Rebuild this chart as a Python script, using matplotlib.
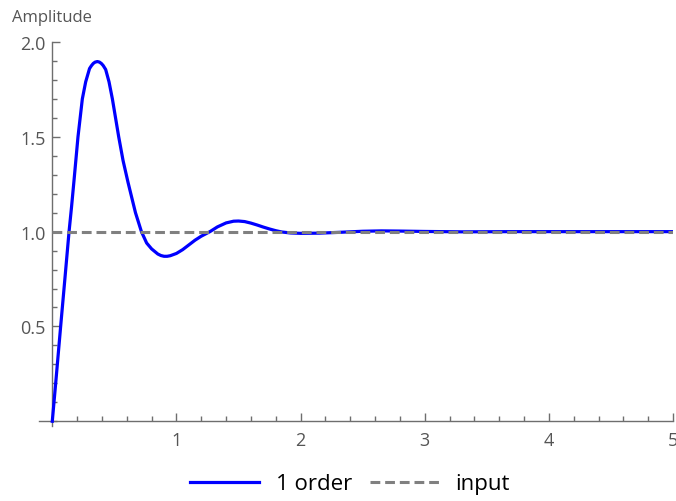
import matplotlib
matplotlib.use("Agg")
import matplotlib.pyplot as plt
from matplotlib.ticker import MultipleLocator

plt.rcParams['font.family'] = ['Open Sans', 'DejaVu Sans']

# step response
t_resp = [0.00, 0.03, 0.068, 0.10, 0.135, 0.155, 0.175, 0.207, 0.242, 0.269,
          0.30, 0.315, 0.33, 0.345, 0.363, 0.38, 0.395, 0.41, 0.43, 0.457, 0.484,
          0.535, 0.57, 0.61, 0.67, 0.718, 0.76, 0.80, 0.85, 0.875, 0.90, 0.925,
          0.95, 1.00, 1.05, 1.10, 1.15, 1.20, 1.27, 1.33, 1.40, 1.46, 1.50, 1.55,
          1.60, 1.65, 1.70, 1.75, 1.80, 1.85, 1.92, 2.0, 2.15, 2.3, 2.5, 2.65,
          2.8, 3.0, 3.3, 3.7, 5.0]
y_resp = [0.00, 0.22, 0.505, 0.74, 1.00, 1.13, 1.27, 1.50, 1.70, 1.79,
          1.86, 1.875, 1.887, 1.894, 1.897, 1.894, 1.887, 1.876, 1.855, 1.79, 1.70,
          1.50, 1.375, 1.26, 1.10, 1.00, 0.94, 0.909, 0.882, 0.874, 0.870, 0.870,
          0.873, 0.885, 0.905, 0.93, 0.955, 0.976, 1.00, 1.025, 1.046, 1.055, 1.056, 1.053,
          1.045, 1.035, 1.024, 1.014, 1.005, 0.998, 0.993, 0.991, 0.992, 0.996, 1.002, 1.004,
          1.003, 1.001, 0.999, 1.0, 1.0]
t_input = [0.0, 5.0]
y_input = [1.0, 1.0]

gray = "#6e6e6e"

fig = plt.figure(figsize=(6.76, 5.02), dpi=100)
ax = fig.add_axes([0.0577, 0.1494, 0.9379, 0.7649])

ax.plot(t_resp, y_resp, color="#0000ff", lw=2.3, label="1 order", zorder=3,
        solid_joinstyle="round")
ax.plot(t_input, y_input, color="#808080", lw=2.2, ls=(0, (3.2, 1.6)), label="input", zorder=4)

ax.set_xlim(-0.107, 5.0)
ax.set_ylim(-0.025, 2.0)

for s in ["top", "right"]:
    ax.spines[s].set_visible(False)
ax.spines["left"].set_position(("data", 0))
ax.spines["bottom"].set_position(("data", 0))
for s in ["left", "bottom"]:
    ax.spines[s].set_color(gray)
    ax.spines[s].set_linewidth(1.0)

ax.set_xticks([1, 2, 3, 4, 5])
ax.set_yticks([0.5, 1.0, 1.5, 2.0])
ax.set_yticklabels(["0.5", "1.0", "1.5", "2.0"])
ax.xaxis.set_minor_locator(MultipleLocator(0.2))
ax.yaxis.set_minor_locator(MultipleLocator(0.1))
ax.tick_params(which="major", direction="in", length=6, width=1, color=gray,
               labelcolor="#555555", labelsize=13)
ax.tick_params(which="minor", direction="in", length=3.5, width=1, color=gray)
ax.tick_params(axis="x", pad=7)
ax.tick_params(axis="y", pad=5)

fig.text(12 / 676, 1 - 18 / 502, "Amplitude", color="#555555", fontsize=12,
         ha="left", va="center")

fig.legend(loc="center", bbox_to_anchor=(350 / 676, 17 / 502), ncol=2,
           frameon=False, fontsize=16, handlelength=3.1, handletextpad=0.75,
           columnspacing=0.8)

fig.savefig("out.png", dpi=100)
